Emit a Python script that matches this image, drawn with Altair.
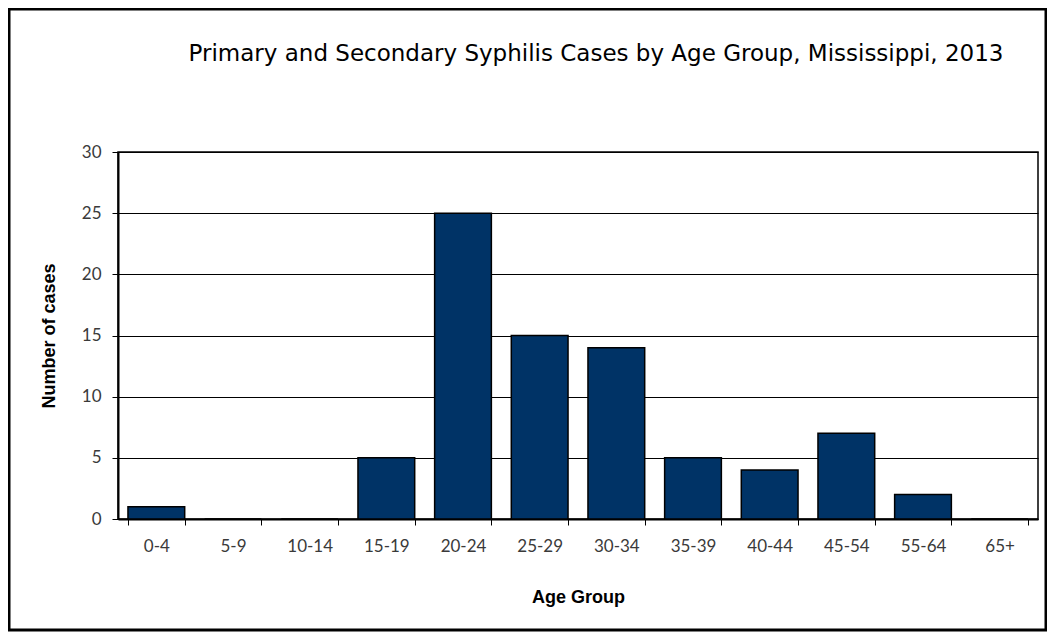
import altair as alt
import pandas as pd

title_text = "Primary and Secondary Syphilis Cases by Age Group, Mississippi, 2013"
age_groups = ["0-4", "5-9", "10-14", "15-19", "20-24", "25-29", "30-34",
              "35-39", "40-44", "45-54", "55-64", "65+"]
cases = [1, 0, 0, 5, 25, 15, 14, 5, 4, 7, 2, 0]
y_ticks = [0, 5, 10, 15, 20, 25, 30]

df = pd.DataFrame({"age": age_groups, "cases": cases})

W, H = 920, 367

bars = alt.Chart(df).mark_bar(
    color="#003366", stroke="#000000", strokeWidth=1.5
).encode(
    x=alt.X("age:N", sort=age_groups, title="Age Group",
            scale=alt.Scale(paddingInner=0.26, paddingOuter=0.13),
            axis=alt.Axis(labelAngle=0, tickBand="extent", domainColor="#000",
                          domainWidth=2, tickColor="#000", tickSize=6,
                          labelFont="Lato", labelFontSize=17, labelColor="#3a3a3a",
                          labelPadding=13,
                          titleFont="Liberation Sans", titleFontSize=18,
                          titleFontWeight="bold", titleColor="#000",
                          titlePadding=34, grid=False)),
    y=alt.Y("cases:Q", title="Number of cases",
            scale=alt.Scale(domain=[0, 30], nice=False),
            axis=alt.Axis(values=y_ticks, domainColor="#000", domainWidth=2,
                          tickColor="#000", tickSize=6, gridColor="#000",
                          gridWidth=1, labelFont="Lato", labelFontSize=17,
                          labelColor="#3a3a3a", labelPadding=11,
                          titleFont="Liberation Sans", titleFontSize=18,
                          titleFontWeight="bold", titleColor="#000",
                          titlePadding=23))
)

border = alt.Chart(pd.DataFrame({"k": [0]})).mark_rect(
    fill=None, stroke="#000000", strokeWidth=3, clip=False
).encode(
    x=alt.value(-109), x2=alt.value(W + 8),
    y=alt.value(-143), y2=alt.value(H + 111)
)

title = alt.Chart(pd.DataFrame({"t": [title_text]})).mark_text(
    font="DejaVu Sans", fontSize=23, color="#000", align="center",
    baseline="middle", clip=False
).encode(
    text="t:N", x=alt.value(W / 2 + 18), y=alt.value(-98)
)

chart = alt.layer(bars, border, title).properties(
    width=W, height=H
).configure(
    autosize=alt.AutoSizeParams(type="none"),
    padding={"left": 110, "top": 144, "right": 9, "bottom": 113},
    background="white"
).configure_view(stroke="#000", strokeWidth=1.5)

chart.save("out.html", embed_options={"renderer": "svg", "actions": False})
